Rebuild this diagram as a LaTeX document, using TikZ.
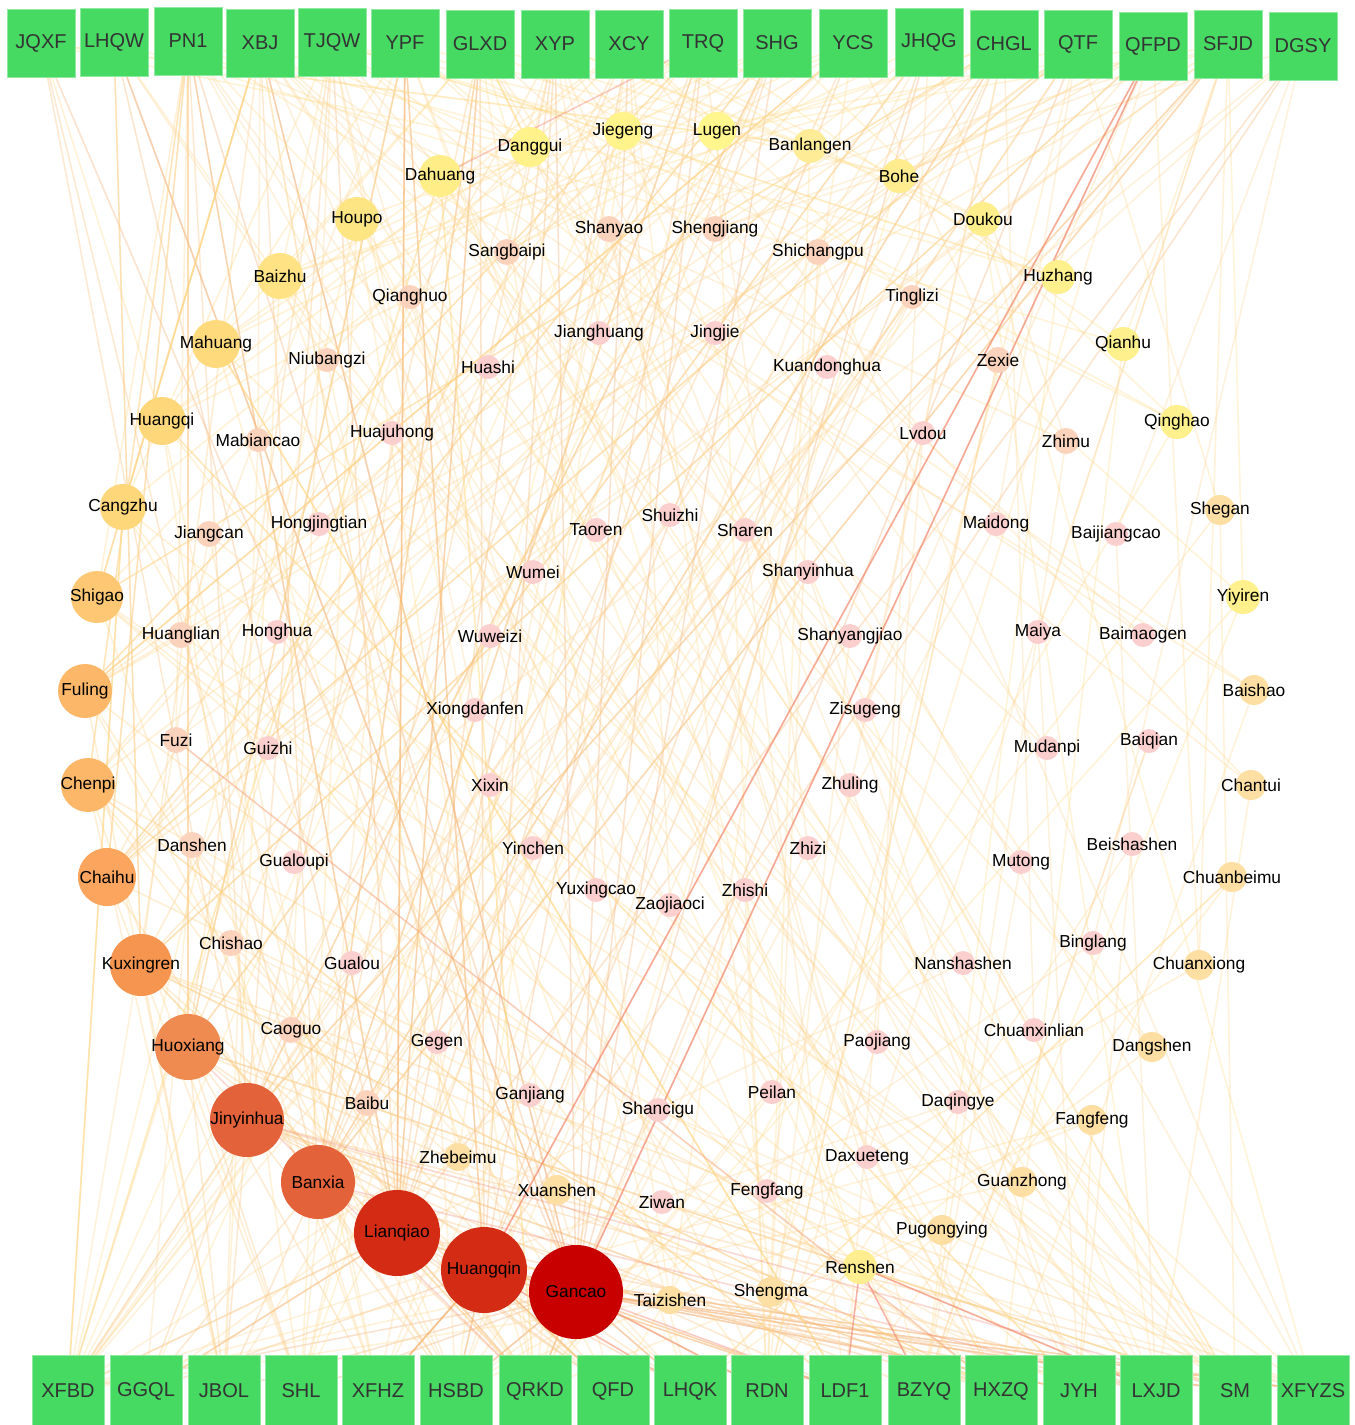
\documentclass[tikz,border=0pt]{standalone}
\usepackage{fontspec}
\setmainfont{Liberation Sans}
\pgfdeclarelayer{bg}
\pgfdeclarelayer{edges}
\pgfsetlayers{bg,edges,main}
\definecolor{boxg}{HTML}{46DA62}
\definecolor{boxt}{HTML}{333333}
\definecolor{eY}{HTML}{FFD684}
\definecolor{eR}{HTML}{F2826F}
\tikzset{
 topbox/.style={rectangle, fill=boxg, draw=boxg!60!white, line width=0.4pt, minimum width=51pt, minimum height=51pt, inner sep=0pt, text=boxt, font=\fontsize{15}{15}\selectfont},
 botbox/.style={topbox, minimum width=54pt, minimum height=53pt},
 herb/.style={circle, inner sep=0pt, draw=none},
 lab/.style={inner sep=0pt, text=black, font=\fontsize{13}{13}\selectfont},
 edge/.style={line width=1.15pt, draw opacity=0.32},
 redge/.style={line width=1.2pt, draw=eR, draw opacity=0.6},
}
\begin{document}
\begin{tikzpicture}[x=0.75pt,y=-0.75pt]
\useasboundingbox (0,0) rectangle (1354,1425);
\begin{pgfonlayer}{bg}\fill[white] (0,0) rectangle (1354,1425);\end{pgfonlayer}
% prescription boxes
\foreach \n/\x/\y [count=\i] in {JQXF/41/43, LHQW/114/42, PN1/188/41, XBJ/260/43, TJQW/332/42, YPF/405/43, GLXD/480/44, XYP/555/44, XCY/629/44, TRQ/703/43, SHG/777/43, YCS/853/43, JHQG/929/42, CHGL/1004/44, QTF/1078/44, QFPD/1153/46, SFJD/1228/44, DGSY/1303/46}
  \node[topbox, alias=B\i] (\n) at (\x,\y) {\n};
\foreach \n/\x [count=\i from 19] in {XFBD/68, GGQL/146, JBOL/224, SHL/301, XFHZ/378, HSBD/456, QRKD/535, QFD/613, LHQK/690, RDN/767, LDF1/845, BZYQ/924, HXZQ/1001, JYH/1079, LXJD/1156, SM/1235, XFYZS/1313}
  \node[botbox, alias=B\i] (\n) at (\x,1391) {\n};
% herbs
\pgfmathsetseed{2024}
\foreach \n/\x/\y/\r/\c/\d in {
 Gancao/576/1292/47/C80000/30, Huangqin/484/1270/43/D42C14/26, Lianqiao/397/1233/43/D42C14/25,
 Banxia/318/1182/37/E3623A/20, Jinyinhua/247/1120/37/E3623A/20, Huoxiang/188/1047/33/EF8A50/17,
 Kuxingren/141/965/31/F6954F/15, Chaihu/107/877/29/FBA55E/13, Chenpi/88/785/27/FDB768/12,
 Fuling/85/691/27/FDB768/12, Shigao/97/597/26/FEC773/11, Cangzhu/123/507/23/FED77B/10,
 Huangqi/162/421/24/FED77B/10, Mahuang/216/344/24/FEDA7D/9, Baizhu/280/276/23/FEE283/8,
 Houpo/357/219/22/FEE584/8, Dahuang/440/176/21/FFEE88/7, Danggui/530/147/20/FFF28A/6,
 Jiegeng/623/131/19/FFF48C/6, Lugen/717/131/19/FFF68D/6, Banlangen/810/146/17/FEEC96/5,
 Bohe/899/176/17/FEEC8E/5, Doukou/983/219/17/FEEF8C/5, Huzhang/1058/277/17/FEF08C/5,
 Qianhu/1123/344/17/FEF08C/4, Qinghao/1177/422/17/FEF08C/4, Yiyiren/1243/597/17/FEF08C/4,
 Renshen/860/1267/17/FEEE90/3,
 Shegan/1220/510/15/FDDFA4/3, Baishao/1254/690/15/FDDFA4/3, Chantui/1251/785/15/FDDFA4/3,
 Chuanbeimu/1232/877/15/FDDFA4/3, Chuanxiong/1199/965/15/FDDFA4/3, Dangshen/1152/1047/15/FDDFA4/3,
 Fangfeng/1092/1120/15/FDDFA4/3, Guanzhong/1022/1182/15/FDDFA4/3, Pugongying/942/1230/15/FDDFA4/3,
 Shengma/771/1292/15/FDDFA4/3, Taizishen/670/1300/14/FDDFA4/3, Zhebeimu/458/1157/14/FDDFA4/3,
 Xuanshen/557/1190/15/FDDFA4/3,
 Shanyao/609/229/13/FBD3BC/3, Shengjiang/715/229/13/FBD3BC/3, Sangbaipi/507/252/13/FBD3BC/3,
 Shichangpu/818/252/13/FBD3BC/3, Qianghuo/410/297/12/FBD3BC/3, Tinglizi/912/297/12/FBD3BC/3,
 Zexie/998/360/13/FBD3BC/3, Zhimu/1066/441/13/FBD3BC/3, Niubangzi/327/360/12/FBD3BC/3,
 Mabiancao/258/440/12/FBD3BC/3, Jiangcan/209/534/13/FBD3BC/3, Huanglian/181/635/13/FBD3BC/3,
 Fuzi/176/740/13/FBD3BC/3, Danshen/192/845/13/FBD3BC/3, Chishao/231/943/13/FBD3BC/3,
 Caoguo/291/1030/13/FBD3BC/3, Baibu/367/1103/13/FBD3BC/3,
 Jianghuang/599/333/12/FCCFCF/2, Jingjie/715/333/12/FCCFCF/2, Huashi/488/367/12/FCCFCF/2,
 Kuandonghua/827/367/12/FCCFCF/2, Huajuhong/392/433/12/FCCFCF/2, Lvdou/923/433/12/FCCFCF/2,
 Hongjingtian/319/524/12/FCCFCF/2, Taoren/596/530/12/FCCFCF/2, Shuizhi/670/515/12/FCCFCF/2,
 Sharen/745/530/12/FCCFCF/2, Maidong/996/524/12/FCCFCF/2, Baijiangcao/1116/534/12/FCCFCF/2,
 Wumei/533/572/12/FCCFCF/2, Shanyinhua/808/572/12/FCCFCF/2, Honghua/277/632/12/FCCFCF/2,
 Wuweizi/490/636/12/FCCFCF/2, Shanyangjiao/850/636/12/FCCFCF/2, Maiya/1038/632/12/FCCFCF/2,
 Baimaogen/1143/635/12/FCCFCF/2, Xiongdanfen/475/710/12/FCCFCF/2, Zisugeng/865/710/12/FCCFCF/2,
 Guizhi/268/748/12/FCCFCF/2, Mudanpi/1047/748/12/FCCFCF/2, Baiqian/1149/741/12/FCCFCF/2,
 Xixin/490/785/12/FCCFCF/2, Zhuling/850/785/12/FCCFCF/2, Gualoupi/294/862/12/FCCFCF/2,
 Yinchen/533/848/12/FCCFCF/2, Zhizi/808/848/12/FCCFCF/2, Mutong/1021/862/12/FCCFCF/2,
 Beishashen/1132/844/12/FCCFCF/2, Yuxingcao/596/890/12/FCCFCF/2, Zaojiaoci/670/905/12/FCCFCF/2,
 Zhishi/745/890/12/FCCFCF/2, Gualou/352/963/12/FCCFCF/2, Nanshashen/963/963/12/FCCFCF/2,
 Binglang/1093/943/12/FCCFCF/2, Gegen/437/1042/12/FCCFCF/2, Paojiang/877/1042/12/FCCFCF/2,
 Chuanxinlian/1034/1030/12/FCCFCF/2, Ganjiang/530/1095/12/FCCFCF/2, Shancigu/658/1110/12/FCCFCF/2,
 Peilan/772/1092/12/FCCFCF/2, Daqingye/958/1102/12/FCCFCF/2, Daxueteng/867/1157/12/FCCFCF/2,
 Ziwan/662/1202/12/FCCFCF/2, Fengfang/767/1191/12/FCCFCF/2}{
  \edef\tmp{\noexpand\definecolor{hc}{HTML}{\c}}\tmp
  \node[herb, fill=hc, minimum size={1.5pt*\r}] (\n) at (\x,\y) {};
  \node[lab] (\n-l) at (\n.center) {\n};
  \begin{pgfonlayer}{edges}
    \foreach \k in {1,...,\d}{
      \pgfmathrandominteger{\b}{1}{35}
      \draw[edge, draw=hc!22!eY] (\n.center) -- (B\b.center);
    }
  \end{pgfonlayer}
}
% stronger connectors
\begin{pgfonlayer}{edges}
\draw[redge] (QFPD.center) -- (Gancao.center);
\draw[redge] (QFPD.center) -- (Huangqin.center);
\draw[redge, draw opacity=0.4] (TRQ.center) -- (Dahuang.center);
\draw[redge] (Renshen.center) -- (LXJD.center);
\draw[redge] (Renshen.center) -- (LDF1.center);
\draw[redge] (Renshen.center) -- (BZYQ.center);
\draw[redge, draw opacity=0.4] (Gancao.center) -- (RDN.center);
\draw[redge, draw opacity=0.4] (Gancao.center) -- (LDF1.center);
\draw[redge, draw opacity=0.4] (Huangqin.center) -- (LHQK.center);
\draw[redge, draw opacity=0.3] (Jinyinhua.center) -- (SM.center);
\draw[redge, draw opacity=0.3] (Banxia.center) -- (LXJD.center);
\draw[redge, draw opacity=0.3] (Huoxiang.center) -- (QRKD.center);
\draw[redge, draw opacity=0.3] (Fuzi.center) -- (HXZQ.center);
\end{pgfonlayer}
\end{tikzpicture}
\end{document}
